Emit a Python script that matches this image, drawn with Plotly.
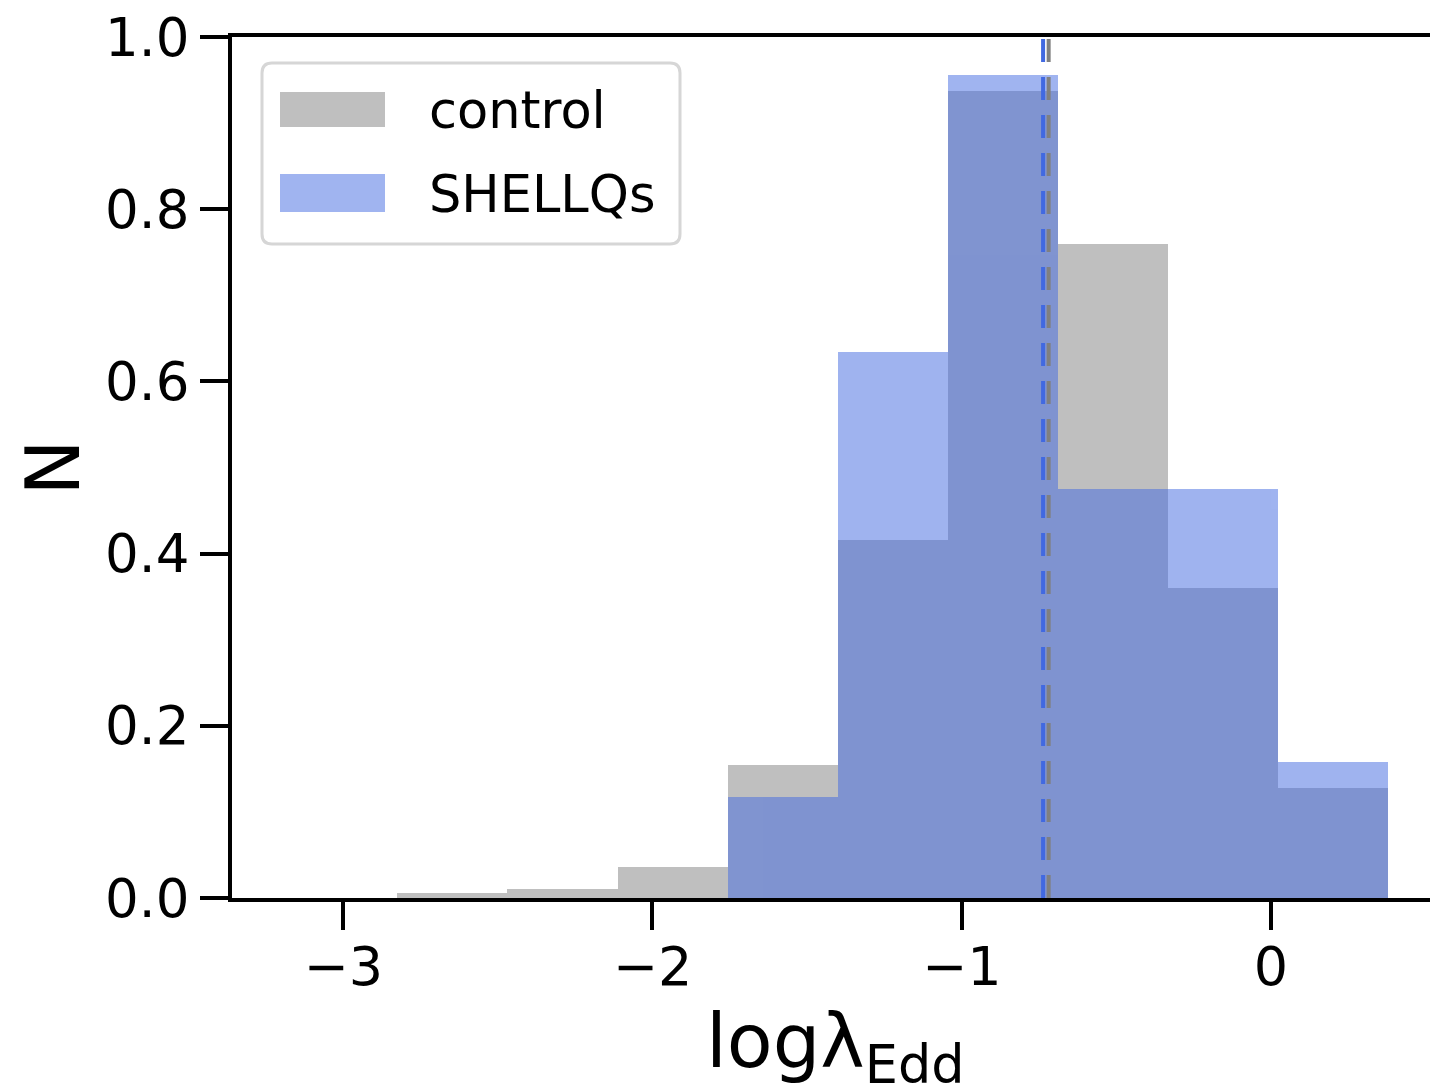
import plotly.graph_objects as go

# ---- data ----
bin_edges = [-2.825, -2.469, -2.113, -1.757, -1.401, -1.045, -0.689, -0.333, 0.023, 0.379]
control_N = [0.006, 0.010, 0.036, 0.154, 0.416, 0.937, 0.760, 0.360, 0.128]
shellqs_N = [0.0, 0.0, 0.0, 0.117, 0.634, 0.956, 0.475, 0.475, 0.158]
control_median = -0.719
shellqs_median = -0.737
series_names = ["control", "SHELLQs"]
x_tick_vals = [-3, -2, -1, 0]
y_tick_vals = [0.0, 0.2, 0.4, 0.6, 0.8, 1.0]
x_title = "logλ<sub>Edd</sub>"
y_title = "N"

# ---- styling / layout ----
W, H = 1430, 1092
L, R, T, B = 232, 0, 37, 194
PW, PH = W - L - R, H - T - B
FONT = "DejaVu Sans"
GRAY = "#808080"
BLUE = "#4169e1"

centers = [(a + b) / 2 for a, b in zip(bin_edges[:-1], bin_edges[1:])]
widths = [b - a for a, b in zip(bin_edges[:-1], bin_edges[1:])]

fig = go.Figure()
fig.add_trace(go.Bar(x=centers, y=control_N, width=widths, name=series_names[0],
                     marker=dict(color=GRAY, line=dict(width=0)), opacity=0.5,
                     showlegend=False))
fig.add_trace(go.Bar(x=centers, y=shellqs_N, width=widths, name=series_names[1],
                     marker=dict(color=BLUE, line=dict(width=0)), opacity=0.5,
                     showlegend=False))

def px_x(px):
    return (px - L) / PW

def px_y(py):
    return 1 - (py - T) / PH

shapes = []
# median lines
shapes.append(dict(type="line", xref="x", yref="paper", x0=shellqs_median, x1=shellqs_median,
                   y0=0, y1=1, line=dict(color=BLUE, width=4, dash="23px,15px"), layer="above"))
shapes.append(dict(type="line", xref="x", yref="paper", x0=control_median, x1=control_median,
                   y0=0, y1=1, line=dict(color=GRAY, width=4, dash="23px,15px"), layer="above"))

# manual legend box with rounded corners
def rounded(x0p, y0p, x1p, y1p, r):
    X0, X1 = px_x(x0p), px_x(x1p)
    Y0, Y1 = px_y(y0p), px_y(y1p)  # Y0 top, Y1 bottom
    rx, ry = r / PW, r / PH
    return (f"M {X0+rx},{Y0} L {X1-rx},{Y0} Q {X1},{Y0} {X1},{Y0-ry} "
            f"L {X1},{Y1+ry} Q {X1},{Y1} {X1-rx},{Y1} L {X0+rx},{Y1} "
            f"Q {X0},{Y1} {X0},{Y1+ry} L {X0},{Y0-ry} Q {X0},{Y0} {X0+rx},{Y0} Z")

shapes.append(dict(type="path", xref="paper", yref="paper", path=rounded(262, 63, 680, 244, 10),
                   line=dict(color="#d6d6d6", width=3), fillcolor="rgba(255,255,255,0.8)",
                   layer="above"))
legend_rows = [(series_names[0], GRAY, 92, 127), (series_names[1], BLUE, 174, 212)]
annotations = []
for name, col, ytop, ybot in legend_rows:
    shapes.append(dict(type="rect", xref="paper", yref="paper",
                       x0=px_x(280), x1=px_x(385), y0=px_y(ybot), y1=px_y(ytop),
                       fillcolor=col, opacity=0.5, line=dict(width=0), layer="above"))
    annotations.append(dict(text=name, xref="paper", yref="paper", x=px_x(427),
                            y=px_y((ytop + ybot) / 2 + 1), xanchor="left", yanchor="middle",
                            showarrow=False, font=dict(family=FONT, size=51, color="black")))

# x axis title placed as annotation for exact position
annotations.append(dict(text=x_title, xref="paper", yref="paper", x=px_x(835), y=px_y(995),
                        xanchor="center", yanchor="top", showarrow=False,
                        font=dict(family=FONT, size=75, color="black")))

fig.update_layout(
    width=W, height=H,
    margin=dict(l=L, r=R, t=T, b=B, autoexpand=False),
    plot_bgcolor="white", paper_bgcolor="white",
    barmode="overlay", bargap=0,
    font=dict(family=FONT, color="black"),
    shapes=shapes, annotations=annotations,
    showlegend=False,
)
fig.update_xaxes(
    range=[-3.3595, (1430 - 1271) / 309.33],
    tickvals=x_tick_vals, ticks="outside", ticklen=28, tickwidth=4, tickcolor="black",
    showline=True, linewidth=4, linecolor="black", mirror=True,
    showgrid=False, zeroline=False,
    tickfont=dict(family=FONT, size=54), ticklabelstandoff=-10,
)
fig.update_yaxes(
    range=[0, 1], tickvals=y_tick_vals, tickformat=".1f",
    ticks="outside", ticklen=28, tickwidth=4, tickcolor="black",
    showline=True, linewidth=4, linecolor="black", mirror=False,
    showgrid=False, zeroline=False,
    tickfont=dict(family=FONT, size=53), ticklabelstandoff=0,
    title=dict(text=y_title, font=dict(family=FONT, size=75), standoff=2),
)

fig.write_html("out.html")
